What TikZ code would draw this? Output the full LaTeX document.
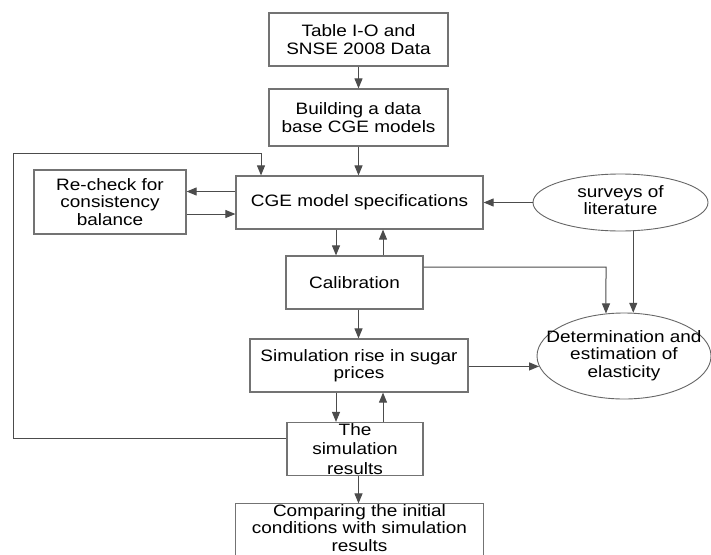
\documentclass[tikz,border=0pt]{standalone}
\usepackage{fontspec}
\setmainfont{Liberation Sans}[FakeStretch=1.15]
\usetikzlibrary{arrows.meta,shapes.geometric}
\newcommand\zwtext[1]{\makebox[0pt]{\begin{tabular}{@{}c@{}}#1\end{tabular}}}
\begin{document}
\begin{tikzpicture}[x=1pt,y=-1pt,
  every node/.style={font=\fontsize{16.5}{17.5}\selectfont, text=black},
  boxline/.style={draw=black!55, line width=1.2pt},
  boxnode/.style={boxline, rectangle, inner sep=0pt, align=center},
  ellnode/.style={draw=black!60, line width=0.9pt, ellipse, inner sep=0pt},
  conn/.style={draw=black!70, line width=1pt},
  arr/.style={conn, -{Triangle[length=10pt,width=8pt]}}]
\useasboundingbox (0,0) rectangle (711,554);
\clip (0,0) rectangle (711,554);
\fill[white] (0,0) rectangle (711,554);
% nodes
\node[boxnode, minimum width=179pt, minimum height=53pt] (data) at (358.5,39.5) {Table I-O and\\SNSE 2008 Data};
\node[boxnode, minimum width=179pt, minimum height=57pt] (build) at (358.5,117.5) {Building a data\\base CGE models};
\node[boxnode, minimum width=247pt, minimum height=53pt] (cge) at (359.5,202.5) {CGE model specifications};
\node[boxnode, minimum width=152pt, minimum height=64pt] (recheck) at (110,202) {Re-check for\\consistency\\balance};
\node[ellnode, minimum width=175pt, minimum height=57pt] (surveys) at (620.5,202.5) {\zwtext{surveys of\\literature}};
\node[boxnode, minimum width=137pt, minimum height=53pt] (calib) at (354.5,282.5) {Calibration};
\node[ellnode, minimum width=174pt, minimum height=86pt] (det) at (624,356) {\zwtext{Determination and\\estimation of\\elasticity}};
\node[boxnode, minimum width=218pt, minimum height=53pt] (sim) at (359,365.5) {Simulation rise in sugar\\prices};
\node[boxnode, minimum width=136pt, minimum height=53pt, font=\fontsize{16.5}{19.5}\selectfont] (results) at (355,449) {The\\simulation\\results};
\node[boxnode, draw=none, minimum width=247pt, minimum height=48pt] (compare) at (359.5,528) {Comparing the initial\\conditions with simulation\\results};
\draw[boxline] ([yshift=-20pt]compare.south west) -- (compare.north west) -- (compare.north east) -- ([yshift=-20pt]compare.south east);
% helper coordinates
\coordinate (xL) at (336,0);
\coordinate (xR) at (383,0);
\coordinate (xM) at (358.5,0);
\coordinate (yA) at (0,191.5);
\coordinate (yB) at (0,214);
\coordinate (yC) at (0,267);
\coordinate (xD) at (606,0);
\coordinate (lpA) at (13,438);
\coordinate (lpB) at (261,153.5);
% connectors
\draw[arr] (data.south -| xM) -- (build.north -| xM);
\draw[arr] (build.south -| xM) -- (cge.north -| xM);
\draw[arr] (results.west |- lpA) -- (lpA) |- (lpB) -- (cge.north -| lpB);
\draw[arr] (cge.west |- yA) -- (recheck.east |- yA);
\draw[arr] (recheck.east |- yB) -- (cge.west |- yB);
\draw[arr] (surveys.west) -- (cge.east |- surveys.west);
\draw[arr] (cge.south -| xL) -- (calib.north -| xL);
\draw[arr] (calib.north -| xR) -- (cge.south -| xR);
\draw[arr] (calib.east |- yC) -- (xD |- yC) -- (det.113);
\draw[arr] (surveys.-66) -- (surveys.-66 |- det.79);
\draw[arr] (calib.south -| xM) -- (sim.north -| xM);
\draw[arr] (sim.east |- det.187) -- (det.187);
\draw[arr] (sim.south -| xL) -- (results.north -| xL);
\draw[arr] (results.north -| xR) -- (sim.south -| xR);
\draw[arr] (results.south -| xM) -- (compare.north -| xM);
\end{tikzpicture}
\end{document}
